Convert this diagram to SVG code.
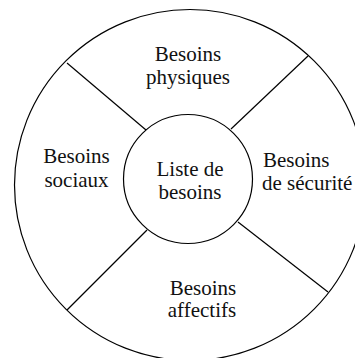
<svg xmlns="http://www.w3.org/2000/svg" width="355" height="358" viewBox="0 0 355 358">
<style>
.s{fill:none;stroke:#000;stroke-width:1.2}
.t{font-family:'Liberation Serif','Times New Roman',Times,serif;font-size:21px;fill:#111}
.c{text-anchor:middle}
</style>
<rect width="355" height="358" fill="#fff"/>
<g id="outer"><circle class="s" cx="190" cy="185" r="175.5"/></g>
<g id="connectors">
<line class="s" x1="67" y1="63" x2="146" y2="130"/>
<line class="s" x1="308" y1="56" x2="231" y2="129"/>
<line class="s" x1="67" y1="310" x2="147" y2="230"/>
<line class="s" x1="328" y1="292" x2="238" y2="222"/>
</g>
<g id="center" class="t"><circle class="s" cx="188" cy="179" r="64.5"/>
<text class="c" x="190" y="176" font-family="Liberation Serif, serif">Liste de</text><text class="c" x="190" y="199" font-family="Liberation Serif, serif">besoins</text></g>
<g id="physiques" class="t" font-family="Liberation Serif, serif"><text class="c" x="188" y="61">Besoins</text><text class="c" x="188" y="84">physiques</text></g>
<g id="sociaux" class="t" font-family="Liberation Serif, serif"><text class="c" x="76.5" y="163">Besoins</text><text class="c" x="76.5" y="187">sociaux</text></g>
<g id="securite" class="t" font-family="Liberation Serif, serif"><text x="263" y="167">Besoins</text><text x="262" y="190">de sécurité</text></g>
<g id="affectifs" class="t" font-family="Liberation Serif, serif"><text class="c" x="203" y="295">Besoins</text><text class="c" x="202" y="317">affectifs</text></g>
</svg>
